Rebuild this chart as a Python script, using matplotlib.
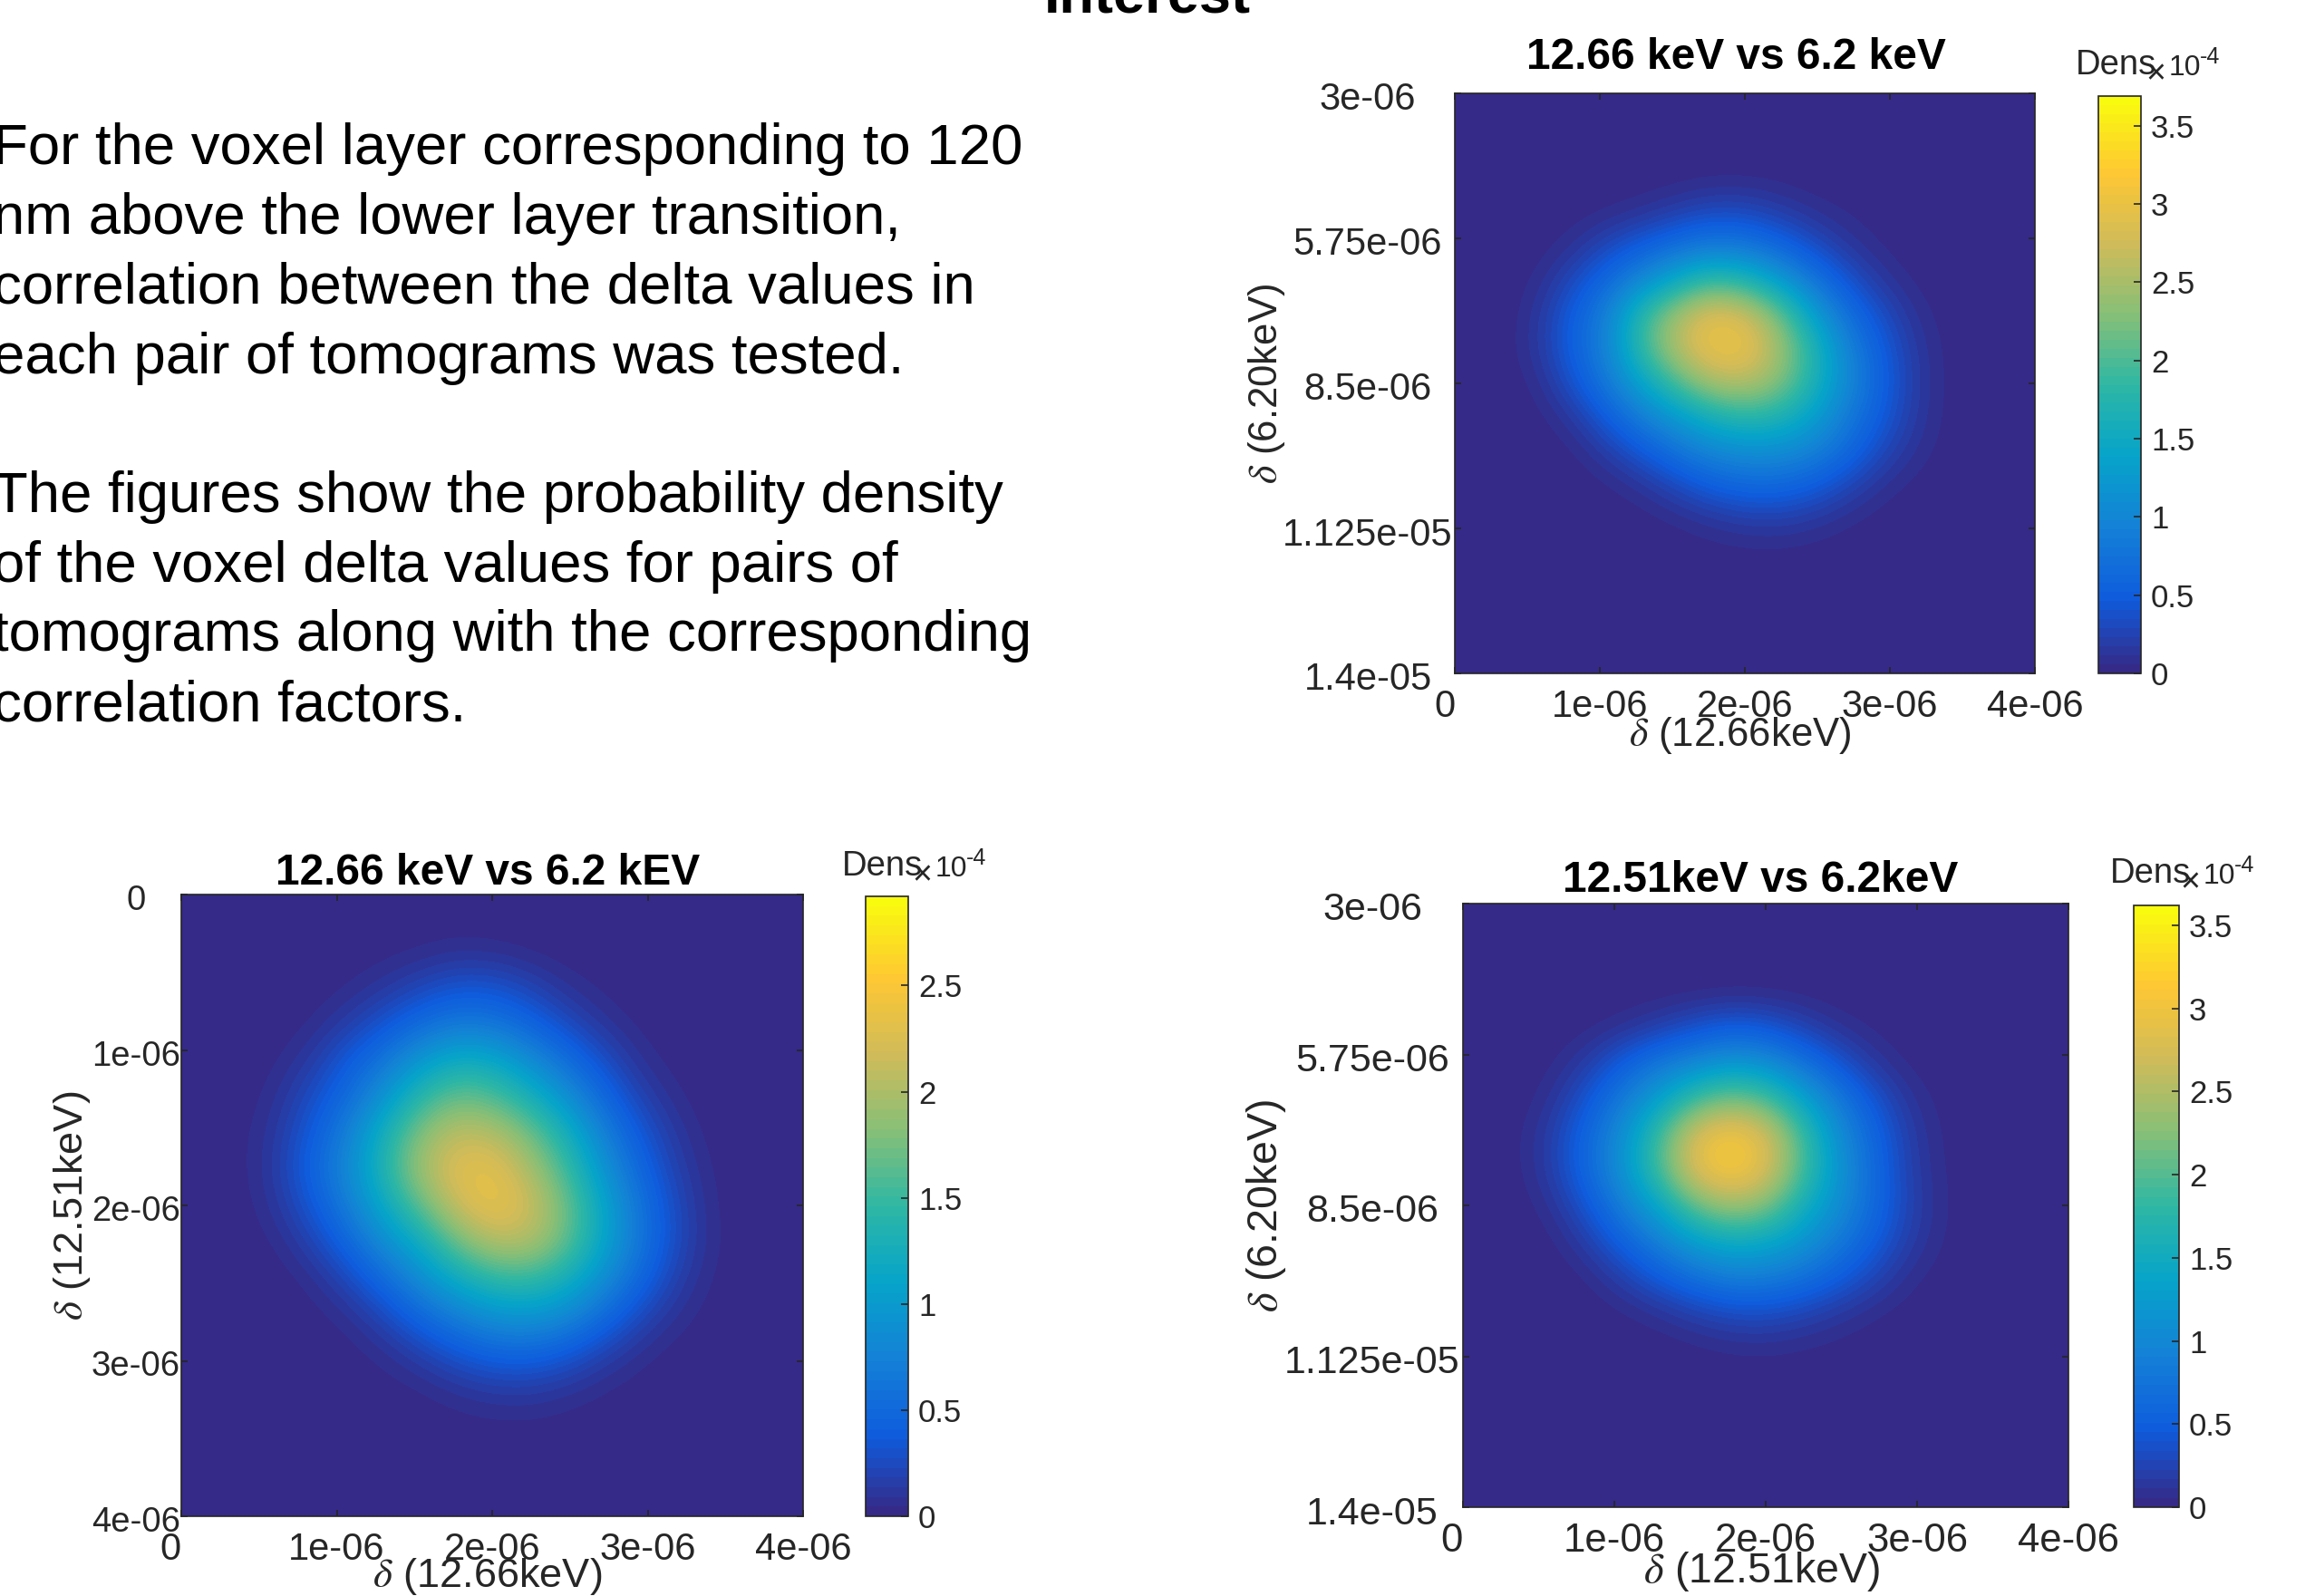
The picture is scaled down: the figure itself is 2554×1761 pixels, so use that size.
import numpy as np
import matplotlib
matplotlib.use("Agg")
import matplotlib.pyplot as plt
from matplotlib.colors import LinearSegmentedColormap
from matplotlib.transforms import Affine2D


W, H = 2554, 1761
GREY = '#262626'

PARULA = ['#352A87', '#0F5CDD', '#1481D6', '#06A4CA', '#2EB7A4',
          '#87BF77', '#D1BB59', '#FEC832', '#F9FB0E']

HEADING = "Interest"
BODY_LINES = [
    "For the voxel layer corresponding to 120",
    "nm above the lower layer transition,",
    "correlation between the delta values in",
    "each pair of tomograms was tested.",
    "",
    "The figures show the probability density",
    "of the voxel delta values for pairs of",
    "tomograms along with the corresponding",
    "correlation factors.",
]

X_TICKS = [0, 1e-6, 2e-6, 3e-6, 4e-6]
X_LABELS = ['0', '1e-06', '2e-06', '3e-06', '4e-06']
Y_TICKS_620 = [3e-6, 5.75e-6, 8.5e-6, 1.125e-5, 1.4e-5]
Y_LABELS_620 = ['3e-06', '5.75e-06', '8.5e-06', '1.125e-05', '1.4e-05']
Y_TICKS_1251 = [0, 1e-6, 2e-6, 3e-6, 4e-6]
Y_LABELS_1251 = ['0', '1e-06', '2e-06', '3e-06', '4e-06']

CB_TICKS = [0, 0.5, 1, 1.5, 2, 2.5, 3, 3.5]
CB_LABELS = ['0', '0.5', '1', '1.5', '2', '2.5', '3', '3.5']

# density on a coarse grid, in units of 1e-4
# rows run top to bottom of the panel, columns left to right
GRID_A = [
    [0]*17,
    [0]*17,
    [0, 0, 0, 0, 0, 0, .01, .03, .03, .02, 0, 0, 0, 0, 0, 0, 0],
    [0, 0, 0, .01, .04, .1, .2, .3, .3, .2, .1, .04, .01, 0, 0, 0, 0],
    [0, 0, .01, .1, .3, .5, .7, .85, .8, .6, .35, .15, .04, 0, 0, 0, 0],
    [0, 0, .07, .32, .65, 1.05, 1.5, 1.9, 1.75, 1.3, .8, .4, .15, .03, 0, 0, 0],
    [0, 0, .15, .52, .95, 1.85, 2.5, 2.95, 2.8, 2.2, 1.35, .72, .35, .1, .01, 0, 0],
    [0, .01, .16, .55, 1.0, 1.9, 2.6, 3.05, 3.05, 2.5, 1.75, .98, .5, .16, .02, 0, 0],
    [0, 0, .08, .4, .85, 1.4, 2.0, 2.5, 2.6, 2.3, 1.7, 1.05, .55, .18, .02, 0, 0],
    [0, 0, .02, .16, .5, .9, 1.25, 1.6, 1.8, 1.7, 1.35, .85, .48, .16, .02, 0, 0],
    [0, 0, 0, .03, .2, .45, .75, 1.0, 1.1, 1.1, .95, .65, .3, .1, .01, 0, 0],
    [0, 0, 0, 0, .03, .12, .3, .5, .62, .62, .5, .28, .1, .02, 0, 0, 0],
    [0, 0, 0, 0, 0, .01, .05, .12, .18, .2, .14, .06, .01, 0, 0, 0, 0],
    [0, 0, 0, 0, 0, 0, 0, .01, .02, .02, .01, 0, 0, 0, 0, 0, 0],
    [0]*17,
    [0]*17,
    [0]*17,
]
GRID_B = [
    [0]*17,
    [0, 0, 0, 0, 0, .01, .03, .06, .05, .02, 0, 0, 0, 0, 0, 0, 0],
    [0, 0, 0, 0, .03, .1, .2, .3, .3, .2, .08, .02, 0, 0, 0, 0, 0],
    [0, 0, 0, .03, .14, .3, .5, .65, .62, .45, .25, .1, .02, 0, 0, 0, 0],
    [0, 0, .02, .12, .35, .6, .95, 1.2, 1.15, .85, .55, .28, .08, .01, 0, 0, 0],
    [0, 0, .06, .25, .5, .9, 1.4, 1.7, 1.6, 1.3, .9, .5, .2, .05, 0, 0, 0],
    [0, .01, .1, .35, .7, 1.25, 1.8, 2.1, 2.05, 1.75, 1.3, .75, .36, .12, .01, 0, 0],
    [0, .01, .12, .42, .8, 1.35, 1.95, 2.3, 2.35, 2.0, 1.55, .95, .5, .18, .03, 0, 0],
    [0, 0, .09, .32, .68, 1.15, 1.65, 2.15, 2.4, 2.2, 1.75, 1.15, .62, .25, .04, 0, 0],
    [0, 0, .03, .18, .45, .85, 1.2, 1.7, 2.05, 2.05, 1.7, 1.15, .65, .26, .05, 0, 0],
    [0, 0, 0, .05, .22, .5, .85, 1.2, 1.45, 1.5, 1.3, .9, .5, .18, .03, 0, 0],
    [0, 0, 0, .01, .06, .22, .48, .72, .92, .98, .85, .55, .25, .08, .01, 0, 0],
    [0, 0, 0, 0, .01, .06, .18, .34, .46, .48, .38, .2, .07, .01, 0, 0, 0],
    [0, 0, 0, 0, 0, .01, .03, .09, .14, .15, .1, .04, .01, 0, 0, 0, 0],
    [0, 0, 0, 0, 0, 0, 0, .01, .02, .02, .01, 0, 0, 0, 0, 0, 0],
    [0]*17,
    [0]*17,
]
GRID_C = [
    [0]*17,
    [0]*17,
    [0, 0, 0, 0, 0, 0, .01, .02, .02, .01, 0, 0, 0, 0, 0, 0, 0],
    [0, 0, 0, .02, .08, .2, .35, .48, .42, .25, .1, .03, 0, 0, 0, 0, 0],
    [0, 0, .03, .18, .5, .8, 1.0, 1.2, 1.1, .75, .42, .15, .03, 0, 0, 0, 0],
    [0, 0, .1, .42, .85, 1.3, 1.9, 2.2, 2.0, 1.4, .85, .42, .12, .02, 0, 0, 0],
    [0, .02, .2, .6, 1.1, 1.9, 2.8, 3.1, 2.8, 1.95, 1.1, .6, .2, .03, 0, 0, 0],
    [0, .02, .2, .62, 1.15, 1.95, 2.85, 3.15, 2.85, 2.0, 1.2, .65, .22, .04, 0, 0, 0],
    [0, 0, .1, .42, .9, 1.4, 2.1, 2.45, 2.25, 1.6, 1.1, .65, .25, .05, 0, 0, 0],
    [0, 0, .02, .2, .55, .9, 1.3, 1.5, 1.45, 1.2, .85, .52, .2, .04, 0, 0, 0],
    [0, 0, 0, .04, .22, .48, .72, .9, .88, .75, .52, .28, .08, .01, 0, 0, 0],
    [0, 0, 0, 0, .03, .1, .22, .32, .34, .26, .15, .06, .01, 0, 0, 0, 0],
    [0, 0, 0, 0, 0, 0, .02, .05, .06, .04, .02, 0, 0, 0, 0, 0, 0],
    [0]*17,
    [0]*17,
    [0]*17,
    [0]*17,
]

plt.rcParams['font.family'] = ['Liberation Sans', 'DejaVu Sans']
plt.rcParams['mathtext.fontset'] = 'stix'
plt.rcParams['mathtext.default'] = 'regular'

cmap = LinearSegmentedColormap.from_list("parula", PARULA, N=64)
fig = plt.figure(figsize=(W/100, H/100), dpi=100, facecolor='white')


def px_text(x, y, s, **kwargs):
    """Place figure text by reference pixel position (y from the top)."""
    return fig.text(x/W, 1 - y/H, s, **kwargs)


def px_axes(left, top, right, bottom):
    return fig.add_axes([left/W, 1 - bottom/H, (right-left)/W, (bottom-top)/H])


def draw_panel(grid, box, cbox, vmax, title, title_x, title_y, xlabel, ylabel,
               xlabel_y, ylabel_x, yticks, ylabels, ylabel_center, dens_xy,
               xtick_size=30, ytick_size=30, label_size=31.5):
    ax = px_axes(*box)
    im = ax.imshow(
        np.array(grid, dtype=float),
        extent=(0, 4e-6, yticks[-1], yticks[0]),
        aspect='auto',
        cmap=cmap,
        vmin=0,
        vmax=vmax,
        interpolation='bicubic',
    )
    ax.set_xlim(0, 4e-6)
    ax.set_ylim(yticks[-1], yticks[0])
    ax.set_xticks(X_TICKS, X_LABELS)
    ax.set_yticks(yticks, ylabels)
    ax.tick_params(direction='in', length=5, width=1.2, top=True, right=True,
                   color=GREY, labelcolor=GREY)
    ax.tick_params(axis='x', pad=12, labelsize=xtick_size)
    # y labels are centred on one another in the reference
    ax.tick_params(axis='y', pad=(box[0] - ylabel_center)*0.72,
                   labelsize=ytick_size)
    for lab in ax.get_yticklabels():
        lab.set_ha('center')
        lab.set_transform(lab.get_transform() + Affine2D().translate(0, -3))
    ax.get_xticklabels()[0].set_ha('right')
    for spine in ax.spines.values():
        spine.set_color(GREY)
        spine.set_linewidth(1.2)

    px_text(title_x, title_y, title, fontsize=34.5, fontweight='bold',
            ha='center', va='center', color='black')
    px_text((box[0]+box[2])/2 - 5, xlabel_y, xlabel, fontsize=label_size,
            ha='center', va='center', color=GREY)
    px_text(ylabel_x, (box[1]+box[3])/2, ylabel, fontsize=label_size,
            rotation=90, ha='center', va='center', color=GREY)

    cax = px_axes(*cbox)
    cb = fig.colorbar(im, cax=cax)
    cb.set_ticks([t for t in CB_TICKS if t <= vmax],
                 labels=[lab for t, lab in zip(CB_TICKS, CB_LABELS) if t <= vmax])
    cb.ax.tick_params(direction='in', length=6, width=1.2, color=GREY,
                      labelcolor=GREY, labelsize=25, pad=8)
    cb.outline.set_edgecolor(GREY)
    cb.outline.set_linewidth(1.2)

    x0, y0 = dens_xy
    px_text(x0, y0, "Dens", fontsize=27.5, ha='left', va='center', color=GREY)
    px_text(x0 + 77, y0 + 10, "\u00d7", fontsize=27, ha='left', va='center',
            color=GREY)
    px_text(x0 + 103, y0 + 3, "10", fontsize=23, ha='left', va='center',
            color=GREY)
    px_text(x0 + 137, y0 - 9, "-4", fontsize=18, ha='left', va='center',
            color=GREY)


def main():
    px_text(1266, 13, HEADING, fontsize=45.5, fontweight='bold', ha='center',
            va='baseline', color='black')

    for i, line in enumerate(BODY_LINES):
        if line:
            px_text(-8, 165 + i*76.7, line, fontsize=45.7, ha='left',
                    va='center', color='black')

    draw_panel(GRID_A, (1605, 103, 2245, 743), (2315, 106, 2362, 743), 3.69,
               "12.66 keV vs 6.2 keV", 1915, 64,
               r"$\mathit{\delta}$ (12.66keV)", r"$\mathit{\delta}$ (6.20keV)",
               811, 1397, Y_TICKS_620, Y_LABELS_620, 1509, (2290, 72))
    draw_panel(GRID_B, (200, 987, 886, 1673), (955, 989, 1002, 1673), 2.92,
               "12.66 keV vs 6.2 kEV", 538, 964,
               r"$\mathit{\delta}$ (12.66keV)", r"$\mathit{\delta}$ (12.51keV)",
               1740, 80, Y_TICKS_1251, Y_LABELS_1251, 150, (929, 956),
               ytick_size=27.5, label_size=32.5)
    draw_panel(GRID_C, (1614, 997, 2282, 1663), (2354, 999, 2404, 1663), 3.62,
               "12.51keV vs 6.2keV", 1942, 972,
               r"$\mathit{\delta}$ (12.51keV)", r"$\mathit{\delta}$ (6.20keV)",
               1734, 1397, Y_TICKS_620, Y_LABELS_620, 1514, (2328, 964),
               xtick_size=31.5, ytick_size=31, label_size=33.5)

    fig.savefig("out.png", dpi=100, facecolor='white')


if __name__ == "__main__":
    main()
